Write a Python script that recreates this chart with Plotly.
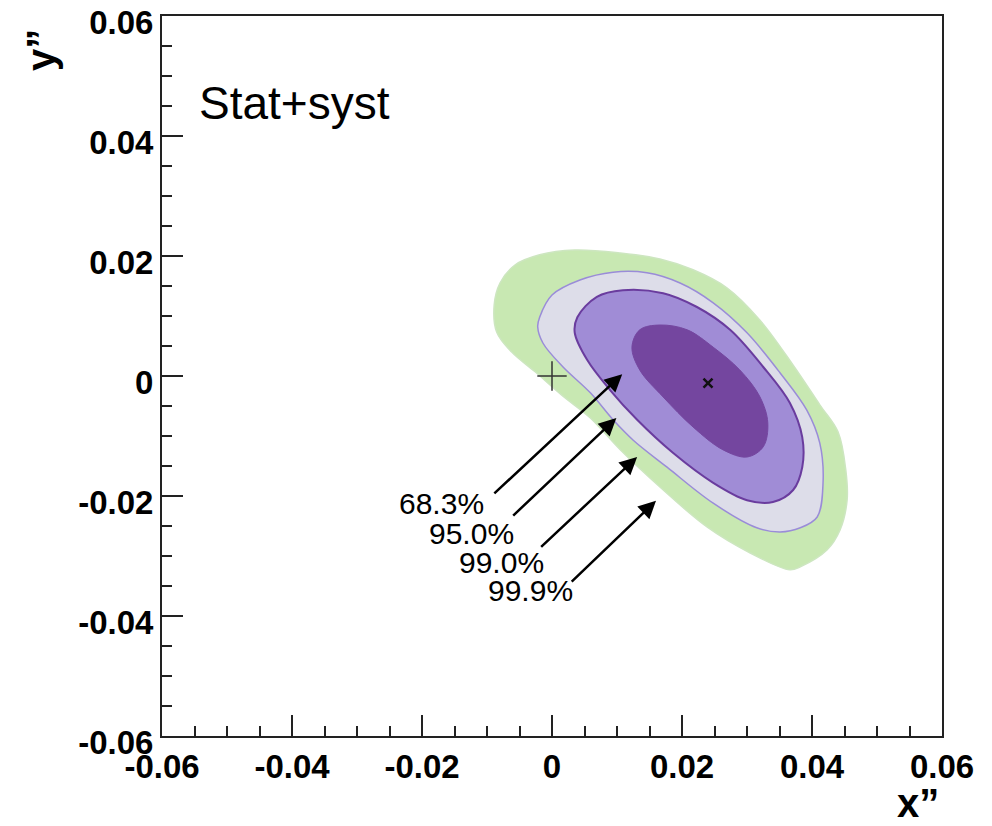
import plotly.graph_objects as go

# Contour boundaries (x'', y'')
green_x = [0.0035, 0.0105, 0.0166, 0.0217, 0.0269, 0.0320, 0.0371, 0.0412, 0.0440, 0.0452, 0.0454, 0.0443, 0.0423, 0.0382, 0.0366, 0.0305, 0.0239, 0.0166, 0.0105, 0.0059, 0.0015, -0.0026, -0.0062, -0.0085, -0.0089, -0.0080, -0.0057, -0.0019]
green_y = [0.0210, 0.0205, 0.0195, 0.0177, 0.0147, 0.0093, 0.0018, -0.0048, -0.0093, -0.0157, -0.0207, -0.0257, -0.0290, -0.0318, -0.0323, -0.0295, -0.0252, -0.0185, -0.0123, -0.0070, -0.0032, 0.0007, 0.0040, 0.0073, 0.0118, 0.0155, 0.0185, 0.0202]

c99_x = [-0.0022, -0.0019, 0.0000, 0.0043, 0.0094, 0.0146, 0.0197, 0.0248, 0.0300, 0.0351, 0.0392, 0.0412, 0.0417, 0.0408, 0.0382, 0.0351, 0.0315, 0.0248, 0.0177, 0.0125, 0.0094, 0.0059, 0.0017, -0.0014]
c99_y = [0.0082, 0.0098, 0.0135, 0.0160, 0.0173, 0.0172, 0.0155, 0.0122, 0.0072, 0.0005, -0.0057, -0.0112, -0.0178, -0.0235, -0.0253, -0.0260, -0.0253, -0.0212, -0.0152, -0.0107, -0.0073, -0.0028, 0.0015, 0.0055]

c95_x = [0.0035, 0.0039, 0.0069, 0.0109, 0.0171, 0.0223, 0.0274, 0.0325, 0.0366, 0.0385, 0.0385, 0.0371, 0.0340, 0.0300, 0.0248, 0.0186, 0.0131, 0.0089, 0.0054]
c95_y = [0.0072, 0.0098, 0.0132, 0.0143, 0.0138, 0.0115, 0.0077, 0.0015, -0.0045, -0.0102, -0.0152, -0.0190, -0.0210, -0.0207, -0.0178, -0.0128, -0.0073, -0.0023, 0.0027]

c68_x = [0.0123, 0.0135, 0.0166, 0.0208, 0.0248, 0.0289, 0.0320, 0.0332, 0.0325, 0.0300, 0.0263, 0.0217, 0.0171, 0.0135]
c68_y = [0.0048, 0.0077, 0.0085, 0.0077, 0.0048, 0.0010, -0.0035, -0.0078, -0.0118, -0.0135, -0.0123, -0.0085, -0.0035, 0.0010]

best_fit = (0.0240, -0.0012)
no_mixing = (0.0, 0.0)

cl_labels = ["68.3%", "95.0%", "99.0%", "99.9%"]
label_x = [-0.0239, -0.0192, -0.0146, -0.0102]
label_y = [-0.0213, -0.0262, -0.0310, -0.0357]
arrow_tail_x = [-0.0091, -0.0062, -0.0019, 0.0028]
arrow_tail_y = [-0.0198, -0.0235, -0.0287, -0.0345]
arrow_head_x = [0.0108, 0.0099, 0.0131, 0.0160]
arrow_head_y = [0.0003, -0.0070, -0.0135, -0.0208]

tick_vals = [-0.06, -0.04, -0.02, 0.0, 0.02, 0.04, 0.06]
tick_text = ["-0.06", "-0.04", "-0.02", "0", "0.02", "0.04", "0.06"]

fig = go.Figure()


def closed(a):
    return list(a) + [a[0]]


fig.add_trace(go.Scatter(x=closed(green_x), y=closed(green_y), mode="lines", fill="toself",
                         fillcolor="#c8e8b2", line=dict(color="#cde6c0", width=1.5),
                         line_shape="spline", hoverinfo="skip", showlegend=False))
fig.add_trace(go.Scatter(x=closed(c99_x), y=closed(c99_y), mode="lines", fill="toself",
                         fillcolor="#dddde9", line=dict(color="#9a8cd8", width=1.5),
                         line_shape="spline", hoverinfo="skip", showlegend=False))
fig.add_trace(go.Scatter(x=closed(c95_x), y=closed(c95_y), mode="lines", fill="toself",
                         fillcolor="#a08cd6", line=dict(color="#6a3c9e", width=2),
                         line_shape="spline", hoverinfo="skip", showlegend=False))
fig.add_trace(go.Scatter(x=closed(c68_x), y=closed(c68_y), mode="lines", fill="toself",
                         fillcolor="#74469f", line=dict(color="#74469f", width=1),
                         line_shape="spline", hoverinfo="skip", showlegend=False))

fig.add_trace(go.Scatter(x=[no_mixing[0]], y=[no_mixing[1]], mode="markers",
                         marker=dict(symbol="cross-thin", size=21, line=dict(color="#333333", width=1.5)),
                         hoverinfo="skip", showlegend=False))
fig.add_trace(go.Scatter(x=[best_fit[0]], y=[best_fit[1]], mode="markers",
                         marker=dict(symbol="x-thin", size=9, line=dict(color="#111111", width=2.5)),
                         hoverinfo="skip", showlegend=False))

annotations = []
for i in range(len(cl_labels)):
    annotations.append(dict(x=arrow_head_x[i], y=arrow_head_y[i], ax=arrow_tail_x[i], ay=arrow_tail_y[i],
                            xref="x", yref="y", axref="x", ayref="y", text="", showarrow=True,
                            arrowhead=2, arrowsize=1.4, arrowwidth=2.5, arrowcolor="black"))
    annotations.append(dict(x=label_x[i], y=label_y[i], xref="x", yref="y", text=cl_labels[i],
                            showarrow=False, xanchor="left", yanchor="middle",
                            font=dict(family="Liberation Sans, Arial", size=30, color="black")))

annotations.append(dict(x=(197 - 162) / 780, y=(736 - 103) / 720, xref="paper", yref="paper",
                        text="Stat+syst", showarrow=False, xanchor="left", yanchor="middle",
                        font=dict(family="Liberation Sans, Arial", size=46, color="black")))
annotations.append(dict(x=(41 - 162) / 780, y=(736 - 50) / 720, xref="paper", yref="paper", text="y”",
                        showarrow=False, textangle=-90, xanchor="center", yanchor="middle",
                        font=dict(family="Liberation Sans, Arial", size=40, color="black", weight="bold")))
annotations.append(dict(x=(918 - 162) / 780, y=(736 - 803) / 720, xref="paper", yref="paper", text="x”",
                        showarrow=False, xanchor="center", yanchor="middle",
                        font=dict(family="Liberation Sans, Arial", size=40, color="black", weight="bold")))

axis_common = dict(range=[-0.06, 0.06], tickvals=tick_vals, ticktext=tick_text, ticks="inside",
                   ticklen=21, tickwidth=1.5, tickcolor="#222222", showline=True, mirror=True,
                   linecolor="#222222", linewidth=2, showgrid=False, zeroline=False,
                   ticklabeloverflow="allow", automargin=False,
                   tickfont=dict(family="Liberation Sans, Arial", size=33, color="black", weight="bold"),
                   minor=dict(ticks="inside", ticklen=10, tickwidth=1.5, tickcolor="#222222",
                              dtick=0.005, tick0=0, showgrid=False))

fig.update_layout(width=992, height=826, margin=dict(l=162, r=50, t=16, b=90, autoexpand=False),
                  plot_bgcolor="white", paper_bgcolor="white", annotations=annotations,
                  xaxis=dict(**axis_common), yaxis=dict(**axis_common, ticklabelshift=6))

fig.write_html("out.html")
